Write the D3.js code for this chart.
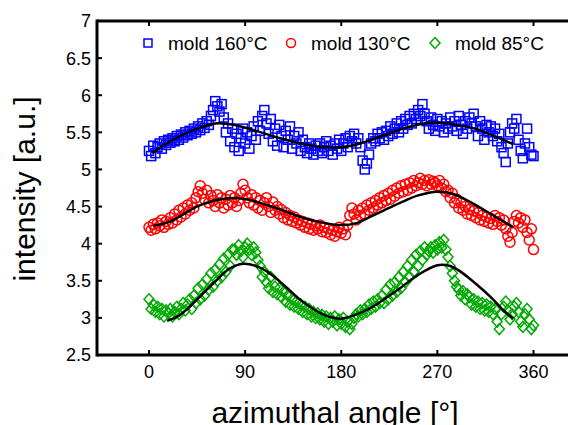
<!DOCTYPE html>
<html>
<head>
<meta charset="utf-8">
<script src="https://cdn.jsdelivr.net/npm/d3@7"></script>
<style>
  body { margin: 0; background: #fff; }
  text { font-family: "Liberation Sans", Arial, sans-serif; fill: #000; }
</style>
</head>
<body>
<script>
// azimuthal angles of the measured points (every 2 degrees, 0..360)
var angles = d3.range(0, 361, 2)

var mold160 = [
  5.25,5.18,5.32,5.22,5.30,5.35,5.28,5.38,5.33,5.40,
  5.36,5.42,5.38,5.45,5.40,5.47,5.43,5.50,5.46,5.52,
  5.48,5.55,5.50,5.58,5.53,5.62,5.56,5.65,5.60,5.72,
  5.80,5.92,5.85,5.78,5.88,5.70,5.50,5.62,5.38,5.55,
  5.30,5.48,5.25,5.42,5.55,5.35,5.50,5.28,5.45,5.58,
  5.40,5.65,5.52,5.72,5.80,5.62,5.48,5.68,5.38,5.55,
  5.32,5.60,5.45,5.30,5.52,5.40,5.58,5.28,5.45,5.35,
  5.50,5.25,5.40,5.30,5.22,5.35,5.28,5.20,5.32,5.25,
  5.35,5.22,5.30,5.38,5.25,5.32,5.20,5.35,5.28,5.40,
  5.25,5.35,5.42,5.30,5.45,5.38,5.48,5.35,5.42,5.30,
  5.12,5.00,5.08,5.20,5.35,5.42,5.38,5.48,5.42,5.50,
  5.40,5.52,5.45,5.58,5.48,5.55,5.62,5.50,5.65,5.55,
  5.68,5.60,5.72,5.62,5.75,5.68,5.80,5.72,5.88,5.75,
  5.65,5.55,5.70,5.60,5.52,5.68,5.58,5.65,5.50,5.62,
  5.55,5.70,5.58,5.65,5.52,5.72,5.60,5.48,5.65,5.55,
  5.70,5.62,5.75,5.58,5.45,5.65,5.55,5.40,5.60,5.50,
  5.58,5.45,5.55,5.38,5.48,5.30,5.22,5.10,5.35,5.50,
  5.62,5.55,5.68,5.40,5.25,5.15,5.35,5.55,5.30,5.20,
  5.18]

var mold130 = [
  4.22,4.18,4.26,4.20,4.28,4.24,4.32,4.22,4.30,4.26,
  4.35,4.28,4.40,4.32,4.45,4.36,4.48,4.40,4.52,4.45,
  4.55,4.48,4.62,4.70,4.78,4.68,4.60,4.72,4.55,4.65,
  4.58,4.50,4.66,4.55,4.62,4.48,4.60,4.52,4.65,4.55,
  4.62,4.50,4.58,4.68,4.80,4.72,4.62,4.55,4.66,4.52,
  4.62,4.48,4.58,4.45,4.55,4.62,4.50,4.42,4.56,4.45,
  4.50,4.40,4.46,4.35,4.42,4.32,4.38,4.30,4.36,4.28,
  4.32,4.25,4.30,4.22,4.28,4.20,4.26,4.18,4.24,4.20,
  4.25,4.16,4.22,4.15,4.20,4.12,4.18,4.10,4.16,4.22,
  4.14,4.20,4.12,4.25,4.38,4.48,4.40,4.32,4.45,4.38,
  4.48,4.40,4.52,4.45,4.55,4.48,4.58,4.52,4.62,4.55,
  4.65,4.58,4.68,4.60,4.72,4.64,4.75,4.68,4.78,4.70,
  4.80,4.72,4.82,4.75,4.85,4.78,4.82,4.88,4.80,4.85,
  4.78,4.86,4.80,4.84,4.82,4.78,4.85,4.75,4.80,4.70,
  4.72,4.62,4.68,4.55,4.60,4.48,4.55,4.45,4.50,4.40,
  4.46,4.38,4.44,4.35,4.42,4.32,4.38,4.30,4.36,4.28,
  4.34,4.26,4.38,4.30,4.35,4.25,4.32,4.20,4.10,4.02,
  4.15,4.30,4.38,4.28,4.35,4.22,4.32,4.15,4.05,4.20,
  3.92]

var mold85 = [
  3.25,3.12,3.18,3.08,3.15,3.05,3.12,3.02,3.10,3.06,
  3.12,3.02,3.08,3.15,3.05,3.12,3.20,3.10,3.18,3.25,
  3.12,3.30,3.20,3.40,3.25,3.45,3.30,3.52,3.38,3.60,
  3.42,3.65,3.50,3.72,3.55,3.80,3.62,3.85,3.70,3.92,
  3.92,3.85,3.98,3.90,3.82,3.95,4.00,3.92,3.85,3.95,
  3.88,3.78,3.70,3.55,3.62,3.48,3.40,3.55,3.35,3.42,
  3.32,3.40,3.28,3.35,3.22,3.30,3.18,3.25,3.15,3.22,
  3.12,3.18,3.08,3.15,3.05,3.12,3.02,3.08,3.00,3.06,
  2.98,3.04,2.95,3.02,2.92,3.00,2.95,3.02,2.90,2.98,
  2.92,3.00,2.88,2.95,2.85,2.92,3.00,3.05,3.02,3.10,
  3.05,3.12,3.08,3.18,3.12,3.22,3.15,3.25,3.20,3.30,
  3.20,3.38,3.25,3.45,3.30,3.48,3.35,3.55,3.40,3.62,
  3.48,3.70,3.55,3.78,3.62,3.85,3.70,3.90,3.78,3.95,
  3.85,3.90,3.95,3.88,3.98,3.92,4.02,3.95,4.05,3.92,
  3.82,3.70,3.60,3.50,3.42,3.38,3.30,3.36,3.25,3.32,
  3.28,3.18,3.25,3.15,3.22,3.12,3.20,3.10,3.18,3.08,
  3.15,3.05,3.12,2.95,2.85,3.05,3.15,3.22,3.10,2.98,
  3.05,3.15,3.20,3.08,2.95,2.88,3.05,3.12,2.98,2.85,
  2.90]

// fitted curves
var fit160Angles = [3,20,40,62,80,100,123,145,165,180,200,220,240,263,285,305,325,341]
var fit160 = [5.22,5.38,5.52,5.62,5.60,5.52,5.42,5.34,5.30,5.30,5.36,5.46,5.56,5.63,5.61,5.55,5.44,5.34]
var fit130Angles = [4,20,48,72,90,104,125,142,160,180,195,207,220,235,252,270,285,301,320,341]
var fit130 = [4.24,4.30,4.52,4.61,4.60,4.55,4.45,4.36,4.29,4.25,4.28,4.36,4.45,4.55,4.65,4.70,4.67,4.56,4.40,4.22]
var fit85Angles = [17,28,38,50,62,75,88,100,113,128,142,156,170,180,193,207,220,235,252,270,282,292,306,320,332,341]
var fit85 = [2.96,3.03,3.15,3.32,3.49,3.66,3.73,3.70,3.60,3.42,3.24,3.10,3.01,2.99,3.04,3.13,3.25,3.40,3.58,3.71,3.70,3.62,3.46,3.28,3.10,2.99]

var xTicks = [0, 90, 180, 270, 360]
var yTicks = [2.5, 3, 3.5, 4, 4.5, 5, 5.5, 6, 6.5, 7]
var seriesNames = ["mold 160\u00b0C", "mold 130\u00b0C", "mold 85\u00b0C"]
var colors = ["#0000ff", "#ff0000", "#00aa00"]

var W = 568, H = 425
var plotLeft = 97, plotTop = 21, plotBottom = 355

var svg = d3.select("body").append("svg")
  .attr("width", W).attr("height", H)

var x = d3.scaleLinear().domain([0, 360]).range([149, 533.5])
var y = d3.scaleLinear().domain([2.5, 7]).range([plotBottom, plotTop])

function pts(vals, angs) {
  return vals.map(function(v, i) { return {a: angs[i], v: v} })
}

var diamond = "M0,-5.5L5,0L0,5.5L-5,0Z"

// markers
svg.append("g").selectAll("rect")
  .data(pts(mold160, angles)).enter()
  .append("rect")
  .attr("x", function(d) { return x(d.a) - 4.5 })
  .attr("y", function(d) { return y(d.v) - 4.5 })
  .attr("width", 9).attr("height", 9)
  .attr("fill", "none").attr("stroke", colors[0]).attr("stroke-width", 1.5)

svg.append("g").selectAll("circle")
  .data(pts(mold130, angles)).enter()
  .append("circle")
  .attr("cx", function(d) { return x(d.a) })
  .attr("cy", function(d) { return y(d.v) })
  .attr("r", 5)
  .attr("fill", "none").attr("stroke", colors[1]).attr("stroke-width", 1.5)

svg.append("g").selectAll("path")
  .data(pts(mold85, angles)).enter()
  .append("path")
  .attr("d", diamond)
  .attr("transform", function(d) { return "translate(" + x(d.a) + "," + y(d.v) + ")" })
  .attr("fill", "none").attr("stroke", colors[2]).attr("stroke-width", 1.5)

// fit lines
var line = d3.line()
  .x(function(d) { return x(d.a) })
  .y(function(d) { return y(d.v) })
  .curve(d3.curveCatmullRom)

;[[fit160, fit160Angles], [fit130, fit130Angles], [fit85, fit85Angles]].forEach(function(f) {
  svg.append("path")
    .datum(pts(f[0], f[1]))
    .attr("d", line)
    .attr("fill", "none").attr("stroke", "#000").attr("stroke-width", 2.5)
})

// axes frame
svg.append("line").attr("x1", plotLeft).attr("x2", W).attr("y1", plotBottom).attr("y2", plotBottom)
  .attr("stroke", "#000").attr("stroke-width", 3)
svg.append("line").attr("x1", plotLeft).attr("x2", W).attr("y1", plotTop).attr("y2", plotTop)
  .attr("stroke", "#000").attr("stroke-width", 3)
svg.append("line").attr("x1", plotLeft).attr("x2", plotLeft).attr("y1", plotTop - 1.5).attr("y2", plotBottom + 1.5)
  .attr("stroke", "#000").attr("stroke-width", 3)

// x ticks (bottom and top, inward)
xTicks.forEach(function(t) {
  svg.append("line").attr("x1", x(t)).attr("x2", x(t)).attr("y1", plotBottom).attr("y2", plotBottom - 5)
    .attr("stroke", "#000").attr("stroke-width", 2)
  svg.append("line").attr("x1", x(t)).attr("x2", x(t)).attr("y1", plotTop).attr("y2", plotTop + 5)
    .attr("stroke", "#000").attr("stroke-width", 2)
  svg.append("text").attr("x", x(t)).attr("y", 378)
    .attr("text-anchor", "middle").attr("font-size", "18px").text(t)
})

yTicks.forEach(function(t) {
  svg.append("line").attr("x1", plotLeft).attr("x2", plotLeft + 5).attr("y1", y(t)).attr("y2", y(t))
    .attr("stroke", "#000").attr("stroke-width", 2)
  svg.append("text").attr("x", 91).attr("y", y(t)).attr("dy", "0.36em")
    .attr("text-anchor", "end").attr("font-size", "18px").text(t)
})

// axis titles
svg.append("text").attr("x", 335).attr("y", 423)
  .attr("text-anchor", "middle").attr("font-size", "30px").text("azimuthal angle [\u00b0]")
svg.append("text").attr("transform", "translate(35,189) rotate(-90)")
  .attr("text-anchor", "middle").attr("font-size", "30px").text("intensity [a.u.]")

// legend
var legX = [148, 291, 435]
var legY = 43
svg.append("rect").attr("x", legX[0] - 4).attr("y", legY - 4).attr("width", 8).attr("height", 8)
  .attr("fill", "none").attr("stroke", colors[0]).attr("stroke-width", 1.5)
svg.append("circle").attr("cx", legX[1]).attr("cy", legY).attr("r", 4.5)
  .attr("fill", "none").attr("stroke", colors[1]).attr("stroke-width", 1.5)
svg.append("path").attr("d", diamond).attr("transform", "translate(" + legX[2] + "," + legY + ")")
  .attr("fill", "none").attr("stroke", colors[2]).attr("stroke-width", 1.5)
seriesNames.forEach(function(n, i) {
  svg.append("text").attr("x", legX[i] + 20).attr("y", 50)
    .attr("font-size", "19px").text(n)
})
</script>
</body>
</html>
